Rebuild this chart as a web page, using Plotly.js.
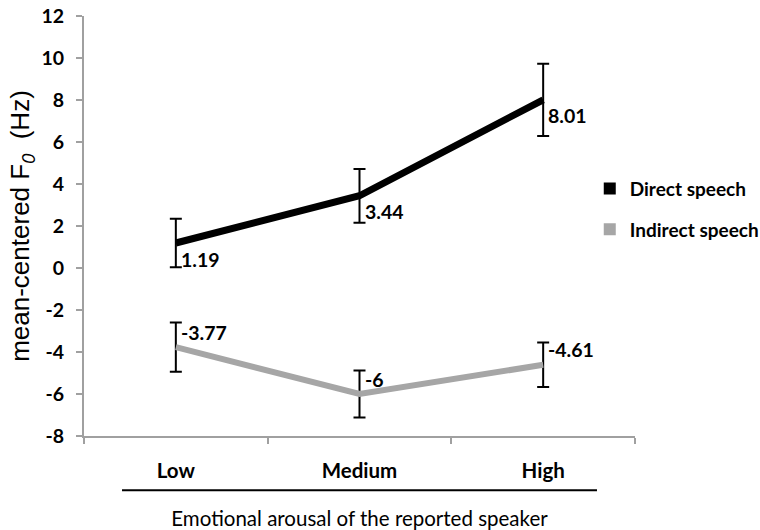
<!DOCTYPE html>
<html>
<head>
<meta charset="utf-8">
<script src="https://cdn.plot.ly/plotly-3.0.1.min.js"></script>
<style>html,body{margin:0;padding:0;background:#fff;}#chart{width:760px;height:530px;}</style>
</head>
<body>
<div id="chart"></div>
<script>
const categories = ["Low", "Medium", "High"];
const directValues = [1.19, 3.44, 8.01];
const directErrors = [1.16, 1.28, 1.72];
const indirectValues = [-3.77, -6, -4.61];
const indirectErrors = [1.17, 1.12, 1.06];
const directLabels = ["1.19", "3.44", "8.01"];
const indirectLabels = ["-3.77", "-6", "-4.61"];
const seriesNames = ["Direct speech", "Indirect speech"];
const yTicks = [-8, -6, -4, -2, 0, 2, 4, 6, 8, 10, 12];
const yTickText = ["-8", "-6", "-4", "-2", "0", "2", "4", "6", "8", "10", "12"];

const FONT = "Lato, 'Open Sans', sans-serif";
const BLACK = "#000000";
const GREY = "#a6a6a6";

const traces = [
  {
    x: categories, y: directValues, type: "scatter", mode: "lines",
    line: {color: BLACK, width: 7},
    error_y: {type: "data", array: directErrors, visible: true, color: "#000", thickness: 2, width: 6},
    showlegend: false, hoverinfo: "skip"
  },
  {
    x: categories, y: indirectValues, type: "scatter", mode: "lines",
    line: {color: GREY, width: 6},
    error_y: {type: "data", array: indirectErrors, visible: true, color: "#000", thickness: 2, width: 6},
    showlegend: false, hoverinfo: "skip"
  },
  {
    x: [null], y: [null], type: "scatter", mode: "markers", name: seriesNames[0],
    marker: {symbol: "square", size: 12, color: BLACK}, legendgroup: "a"
  },
  {
    x: [null], y: [null], type: "scatter", mode: "markers", name: seriesNames[1],
    marker: {symbol: "square", size: 12, color: GREY}, legendgroup: "b"
  }
];

const labelFont = {family: FONT, size: 19.5, color: "#000", weight: "bold"};
const annotations = [];
categories.forEach((c, i) => {
  annotations.push({x: c, y: directValues[i], xref: "x", yref: "y", text: directLabels[i],
    showarrow: false, xanchor: "left", yanchor: "middle", xshift: 3, yshift: -16, font: labelFont});
  annotations.push({x: c, y: indirectValues[i], xref: "x", yref: "y", text: indirectLabels[i],
    showarrow: false, xanchor: "left", yanchor: "middle", xshift: 3, yshift: 15, font: labelFont});
});

const layout = {
  width: 760, height: 530,
  margin: {l: 84, r: 125, t: 16, b: 94, autoexpand: false},
  paper_bgcolor: "#fff", plot_bgcolor: "#fff",
  font: {family: FONT, color: "#000"},
  xaxis: {
    type: "category", categoryorder: "array", categoryarray: categories,
    range: [-0.5, 2.5], autorange: false,
    showgrid: false, zeroline: false,
    showline: true, linecolor: "#a0a0a0", linewidth: 2,
    ticks: "outside", tickson: "boundaries", ticklen: 6, tickcolor: "#a0a0a0", tickwidth: 2,
    tickfont: {family: FONT, size: 20.5, color: "#000", weight: "bold"},
    ticklabelstandoff: 15,
    title: {text: "Emotional arousal of the reported speaker", font: {family: FONT, size: 20.5, color: "#000"}, standoff: 32}
  },
  yaxis: {
    range: [-8, 12], autorange: false, tickmode: "array", tickvals: yTicks, ticktext: yTickText,
    showgrid: false, zeroline: false,
    showline: true, linecolor: "#a0a0a0", linewidth: 2,
    ticks: "outside", ticklen: 6, tickcolor: "#a0a0a0", tickwidth: 2,
    tickfont: {family: FONT, size: 19.5, color: "#000", weight: "bold"},
    ticklabelstandoff: 8,
    title: {text: "mean-centered F<sub><i>0</i></sub>  (Hz)", font: {family: "'Liberation Sans', Arial, sans-serif", size: 26, color: "#000"}, standoff: 4}
  },
  legend: {
    xref: "container", x: 0.776, y: 0.54, xanchor: "left", yanchor: "middle",
    font: {family: FONT, size: 19, color: "#000", weight: "bold"},
    tracegroupgap: 13, bgcolor: "rgba(0,0,0,0)"
  },
  annotations: annotations,
  shapes: [
    {type: "line", xref: "paper", yref: "paper", x0: 0.069, x1: 0.931, y0: -0.129, y1: -0.129,
     line: {color: "#000", width: 2}}
  ]
};

Plotly.newPlot("chart", traces, layout, {displayModeBar: false, staticPlot: true});
</script>
</body>
</html>
